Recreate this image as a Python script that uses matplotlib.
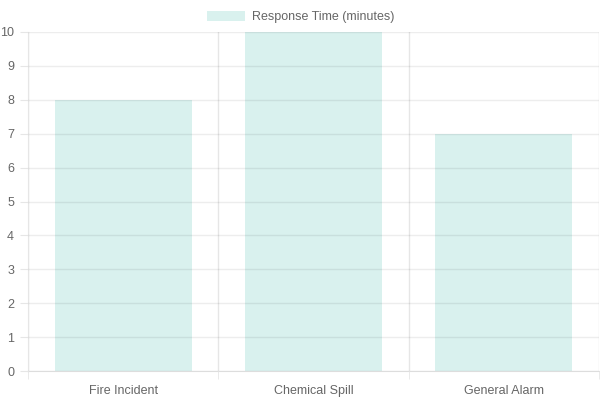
import matplotlib
matplotlib.use("Agg")
import matplotlib.pyplot as plt
import numpy as np
from matplotlib.patches import Patch

categories = ["Fire Incident", "Chemical Spill", "General Alarm"]
values = [8, 10, 7]
series_label = "Response Time (minutes)"
yticks = list(range(0, 11))

plt.rcParams['font.family'] = ['Liberation Sans', 'DejaVu Sans']

W, H = 600, 400
fig = plt.figure(figsize=(6, 4), dpi=100)
ax = fig.add_axes([28 / W, (H - 371) / H, (599 - 28) / W, (371 - 32) / H])

bar_color = "#d9f1ee"
grid_color = "#e6e6e6"
x = np.arange(len(categories))
ax.bar(x, values, width=0.72, color=bar_color, zorder=1)

ax.set_xlim(-0.5, len(categories) - 0.5)
ax.set_ylim(0, 10)
ax.set_yticks(yticks)
ax.set_xticks(x)
ax.set_xticklabels(categories)
ax.set_xticks(np.arange(len(categories) + 1) - 0.5, minor=True)

ax.set_axisbelow(False)
ax.grid(axis='y', which='major', color="#000000", alpha=0.07, lw=1, zorder=2)
ax.grid(axis='x', which='minor', color=grid_color, lw=1, zorder=0)

ax.tick_params(axis='y', which='major', length=6, color=grid_color, labelsize=9, labelcolor="#666666", pad=4)
ax.tick_params(axis='x', which='major', length=0, labelsize=9, labelcolor="#666666", pad=10)
ax.tick_params(axis='x', which='minor', length=6, color=grid_color)

for s in ['top', 'right']:
    ax.spines[s].set_visible(False)
ax.spines['left'].set_color("#dddddd")
ax.spines['bottom'].set_color("#dddddd")

handle = Patch(facecolor=bar_color, edgecolor='none')
fig.legend([handle], [series_label], loc='center', bbox_to_anchor=(301 / W, 1 - 17 / H),
           frameon=False, fontsize=9, handlelength=3.0, handleheight=0.9, handletextpad=0.6,
           labelcolor="#666666")

fig.savefig("out.png", dpi=100)
